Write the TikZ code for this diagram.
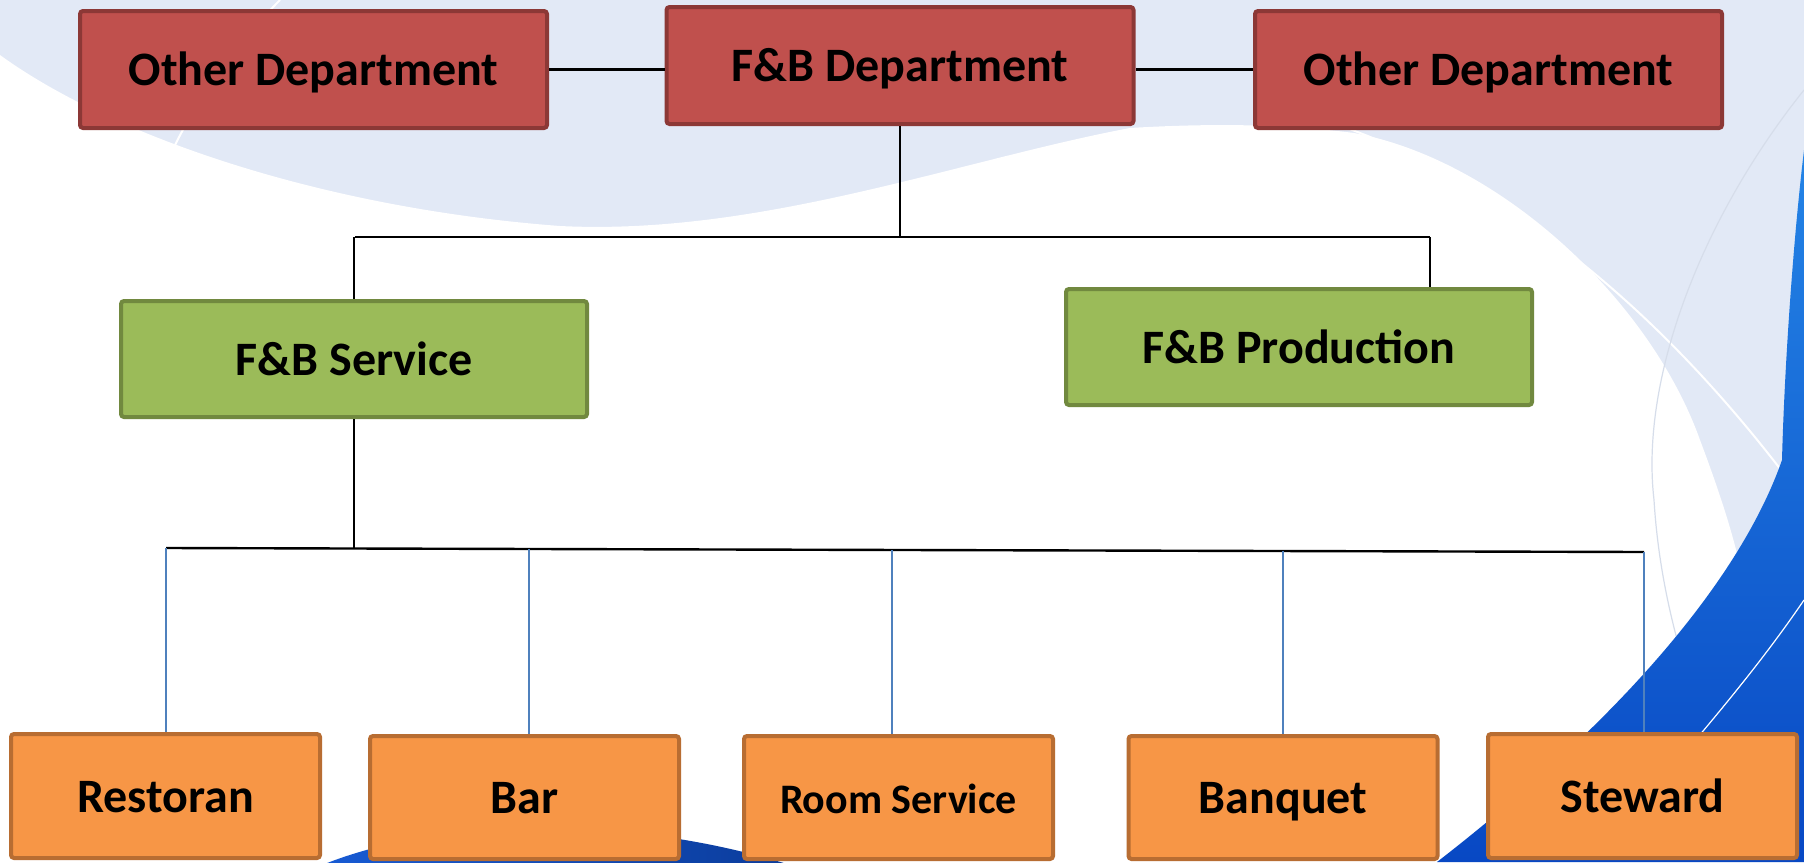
\documentclass[tikz,border=0pt]{standalone}
\usepackage{fontspec}
\setmainfont{Carlito}
\usetikzlibrary{shadings}
\definecolor{pale}{RGB}{226,233,246}
\definecolor{faint}{RGB}{214,221,234}
\definecolor{boxred}{RGB}{192,80,77}
\definecolor{boxredline}{RGB}{140,56,54}
\definecolor{boxgreen}{RGB}{155,187,89}
\definecolor{boxgreenline}{RGB}{113,137,63}
\definecolor{boxorange}{RGB}{247,150,70}
\definecolor{boxorangeline}{RGB}{184,109,50}
\definecolor{linkblue}{RGB}{79,129,189}
\definecolor{swooshtop}{RGB}{36,132,230}
\definecolor{swooshbot}{RGB}{8,72,196}
\definecolor{arcleft}{RGB}{24,92,214}
\definecolor{arcright}{RGB}{10,58,152}
\begin{document}
\begin{tikzpicture}[x=0.5pt,y=-0.5pt,
  box/.style={draw, line width=2pt, rounded corners=1.5pt, inner sep=0pt, align=center,
    text height=20pt, text depth=4pt,
    font=\fontsize{24}{28}\selectfont\bfseries, text=black},
  redbox/.style={box, fill=boxred, draw=boxredline, minimum width=233.5pt, minimum height=58.5pt},
  greenbox/.style={box, fill=boxgreen, draw=boxgreenline, minimum width=233pt, minimum height=58pt},
  orangebox/.style={box, fill=boxorange, draw=boxorangeline, minimum width=154.5pt, minimum height=62pt},
  link/.style={draw=black, line width=1.2pt},
  sublink/.style={draw=linkblue, line width=0.8pt}]
\useasboundingbox (0,0) rectangle (1804,862);
% ---------- background ----------
\begin{scope}
\clip (0,0) rectangle (1804,862);
\fill[pale] (0,0) rectangle (1804,862);
\fill[white] (0,55) .. controls (110,135) and (320,208) .. (560,226)
  .. controls (760,236) and (960,160) .. (1130,128)
  .. controls (1230,122) and (1300,126) .. (1354,133)
  .. controls (1500,160) and (1650,300) .. (1700,440)
  .. controls (1730,520) and (1748,580) .. (1752,650)
  -- (1752,862) -- (0,862) -- cycle;
\draw[white, line width=1pt] (280,0) .. controls (240,40) and (200,95) .. (175,145);
\draw[white, line width=1pt] (1330,122) .. controls (1500,180) and (1650,300) .. (1781,470);
\draw[faint, line width=0.6pt] (1804,90) .. controls (1700,220) and (1640,380) .. (1654,500)
  .. controls (1660,600) and (1690,700) .. (1730,780);
\shade[top color=swooshtop, bottom color=swooshbot]
  (1804,150) .. controls (1792,250) and (1784,380) .. (1782,460)
  .. controls (1740,580) and (1620,720) .. (1437,862) -- (1804,862) -- cycle;
\draw[white, line width=0.6pt] (1804,600) .. controls (1770,650) and (1730,700) .. (1670,770);
\shade[left color=arcleft, right color=arcright]
  (300,875) .. controls (420,815) and (640,810) .. (820,875) -- cycle;
\end{scope}
% ---------- nodes ----------
\node[redbox] (od1) at (313.5,69.5) {Other Department};
\node[redbox] (fbd) at (900,65.5) {F\&B Department};
\node[redbox] (od2) at (1488.5,69.5) {Other Department};
\node[greenbox] (fbs) at (354,359) {F\&B Service};
\node[greenbox] (fbp) at (1299,347) {F\&B Production};
\node[orangebox] (res) at (165.5,796) {Restoran};
\node[orangebox, minimum height=61.5pt] (bar) at (524.5,797.5) {Bar};
\node[orangebox, minimum height=61.5pt, font=\fontsize{21}{25}\selectfont\bfseries] (rs) at (898.5,797.5) {Room Service};
\node[orangebox, minimum height=61.5pt] (banq) at (1283,797.5) {Banquet};
\node[orangebox] (stew) at (1642.5,796) {Steward};
% ---------- connectors ----------
\draw[link] (od1.east) -- (od1.east -| fbd.west);
\draw[link] (od2.west) -- (od2.west -| fbd.east);
\coordinate (t1) at (355,237);
\coordinate (t2) at (1430,237);
\draw[link] (fbd.south) -- (fbd.south |- t1);
\draw[link] (t1) -- (t2);
\draw[link] (fbs.north |- t1) -- (fbs.north);
\draw[link] (t2) -- (t2 |- fbp.north);
\coordinate (b1) at (166,548);
\coordinate (b2) at (1644,552);
\draw[link] (fbs.south) -- (354,549);
\draw[link] (b1) -- (b2);
\coordinate (c2) at (529,549);
\coordinate (c3) at (892,550);
\coordinate (c4) at (1283,551);
\draw[sublink] (b1) -- (b1 |- res.north);
\draw[sublink] (c2) -- (c2 |- bar.north);
\draw[sublink] (c3) -- (c3 |- rs.north);
\draw[sublink] (c4) -- (c4 |- banq.north);
\draw[sublink] (b2) -- (b2 |- stew.north);
\end{tikzpicture}
\end{document}
